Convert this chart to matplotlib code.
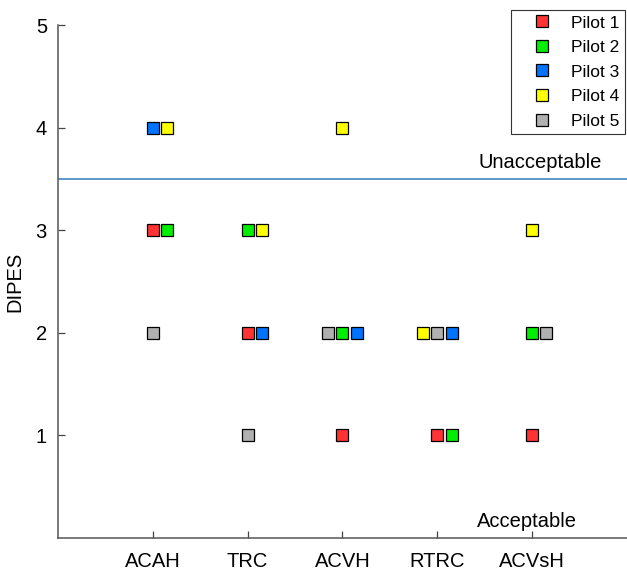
import numpy as np
import matplotlib
matplotlib.use('Agg')
import matplotlib.pyplot as plt

plt.rcParams['font.family'] = ['Liberation Sans', 'DejaVu Sans']

configs = ['ACAH', 'TRC', 'ACVH', 'RTRC', 'ACVsH']
pilots = ['Pilot 1', 'Pilot 2', 'Pilot 3', 'Pilot 4', 'Pilot 5']
colors = ['#ff3333', '#00ee00', '#0073ff', '#ffff00', '#b0b0b0']

# DIPES rating per pilot, per configuration (nan = no rating)
ratings = [
    [3, 2, 1, 1, 1],
    [3, 3, 2, 1, 2],
    [4, 2, 2, 2, np.nan],
    [4, 3, 4, 2, 3],
    [2, 1, 2, 2, 2],
]
# side-by-side slot so overlapping ratings stay visible
slots = [
    [0, 0, 0, 0, 0],
    [1, 0, 0, 1, 0],
    [0, 1, 1, 1, 0],
    [1, 1, 0, -1, 0],
    [0, 0, -1, 0, 1],
]
step = 0.15

fig = plt.figure(figsize=(6.27, 5.74), dpi=100)
ax = fig.add_axes([0.0925, 0.0627, 0.9075, 0.8937])

x = np.arange(1, len(configs) + 1)
for name, col, r, s in zip(pilots, colors, ratings, slots):
    ax.plot(x + step * np.array(s), r, ls='none', marker='s', ms=9,
            mfc=col, mec='black', mew=0.9, label=name)

ax.axhline(3.5, color='#2f7bbf', lw=1.1)
ax.text(5.73, 3.61, 'Unacceptable', ha='right', va='baseline', fontsize=14.5)
ax.text(5.47, 0.107, 'Acceptable', ha='right', va='baseline', fontsize=14.5)

ax.set_xlim(0, 6)
ax.set_ylim(0, 5)
ax.set_xticks(x)
ax.set_xticklabels(configs)
ax.set_yticks([1, 2, 3, 4, 5])
ax.tick_params(direction='in', length=5, width=0.9, color='#444444',
               labelsize=14.5)
ax.tick_params(axis='x', pad=10)
ax.tick_params(axis='y', pad=8)
ax.set_ylabel('DIPES', fontsize=14.5, labelpad=8)
for side in ['top', 'right']:
    ax.spines[side].set_visible(False)
for side in ['left', 'bottom']:
    ax.spines[side].set_color('#555555')
    ax.spines[side].set_linewidth(1.1)

leg = ax.legend(loc='upper right', bbox_to_anchor=(0.996, 1.029), fontsize=12.5,
                fancybox=False, edgecolor='#333333', framealpha=1,
                handlelength=3.0, handletextpad=0.15, borderpad=0.3,
                labelspacing=0.54, borderaxespad=0)
leg.get_frame().set_linewidth(0.8)

fig.savefig('out.png', dpi=100)
